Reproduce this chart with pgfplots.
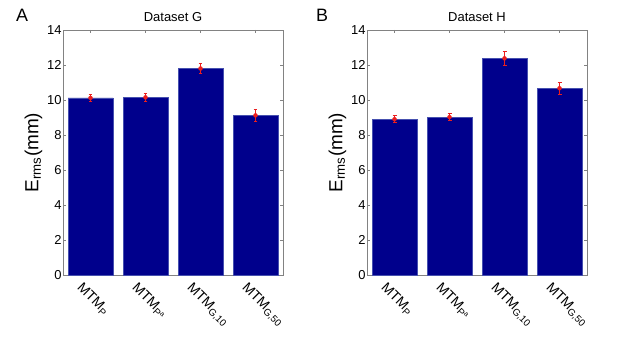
\documentclass[border=0pt]{standalone}
\usepackage{pgfplots}
\pgfplotsset{compat=1.18}
\usepackage{fontspec}
\setmainfont{Liberation Sans}
\definecolor{barblue}{RGB}{0,0,140}
\definecolor{baredge}{RGB}{70,80,175}
\definecolor{axgray}{RGB}{130,130,130}
\definecolor{errred}{RGB}{235,30,30}
\pgfplotsset{
  panel/.style={
    scale only axis, width=220bp, height=245bp,
    anchor=south west,
    xmin=0.5, xmax=4.5, ymin=0, ymax=14,
    ytick={0,2,...,14},
    xtick={1,2,3,4},
    xticklabels={MTM\textsubscript{P}, MTM\textsubscript{P\textsuperscript{a}}, MTM\textsubscript{G,10}, MTM\textsubscript{G,50}},
    x tick label style={rotate=-45, anchor=north west, font=\fontsize{14}{16}\selectfont, xshift=-4bp, yshift=-6bp},
    y tick label style={font=\fontsize{13}{15}\selectfont, xshift=2bp},
    /pgf/number format/assume math mode=true,
    tick align=inside, major tick length=3bp,
    tick style={axgray},
    axis line style={axgray},
    title style={font=\fontsize{13}{15}\selectfont, yshift=-1bp},
    ylabel={E\textsubscript{rms}(mm)},
    ylabel style={font=\fontsize{19}{21}\selectfont, yshift=-2bp},
  },
  bars/.style={ybar, bar width=45bp, bar shift=0pt, fill=barblue, draw=baredge, line width=0.6pt},
  errbars/.style={
    errred, only marks, mark=none, forget plot,
    error bars/.cd, y dir=both, y explicit,
    error bar style={errred, solid, line width=1.1pt},
    error mark options={errred, solid, rotate=90, mark size=2pt, line width=1pt},
  }
}
\pgfplotstableread{
x y e
1 10.12 0.20
2 10.15 0.22
3 11.80 0.28
4 9.12 0.32
}\dataG
\pgfplotstableread{
x y e
1 8.90 0.20
2 9.02 0.20
3 12.38 0.40
4 10.67 0.35
}\dataH
\begin{document}
\begin{tikzpicture}[x=1bp,y=1bp]
\useasboundingbox (0,0) rectangle (621,344);
\begin{axis}[panel, at={(63bp,69bp)}, title={Dataset G}]
\addplot[bars] table[x=x, y=y] {\dataG};
\addplot[errbars] table[x=x, y=y, y error=e] {\dataG};
\end{axis}
\begin{axis}[panel, at={(367bp,69bp)}, title={Dataset H}]
\addplot[bars] table[x=x, y=y] {\dataH};
\addplot[errbars] table[x=x, y=y, y error=e] {\dataH};
\end{axis}
\node[font=\fontsize{18}{20}\selectfont] at (22,329) {A};
\node[font=\fontsize{18}{20}\selectfont] at (322,329) {B};
\end{tikzpicture}
\end{document}
